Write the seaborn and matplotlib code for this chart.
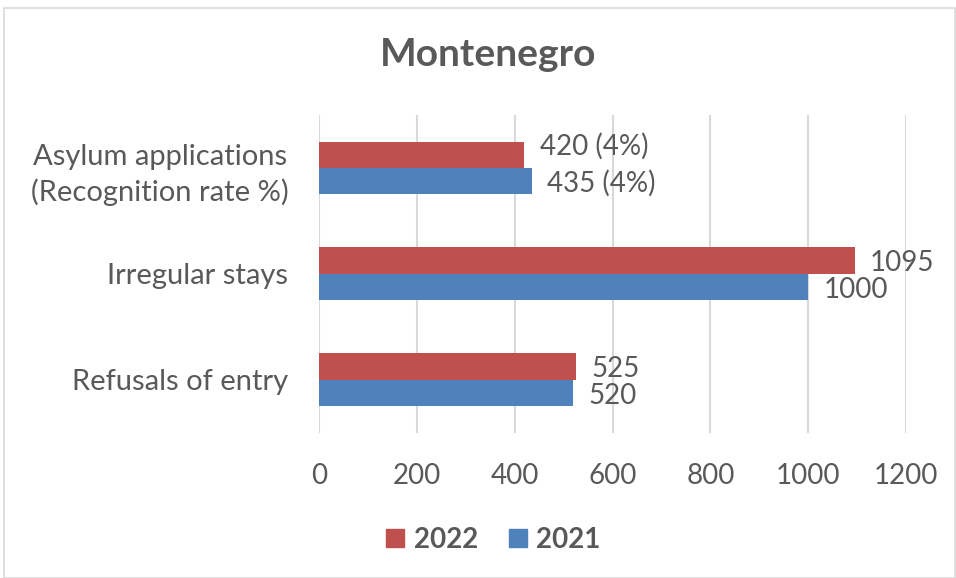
import matplotlib
matplotlib.use("Agg")
import matplotlib.pyplot as plt
import seaborn as sns
import pandas as pd
from matplotlib.patches import Rectangle

categories = ["Asylum applications\n(Recognition rate %)", "Irregular stays", "Refusals of entry"]
values_2022 = [420, 1095, 525]
values_2021 = [435, 1000, 520]
labels_2022 = ["420 (4%)", "1095", "525"]
labels_2021 = ["435 (4%)", "1000", "520"]
years = ["2022", "2021"]
colors = {"2022": "#C0504D", "2021": "#4F81BD"}

df = pd.DataFrame({
    "category": categories * 2,
    "value": values_2022 + values_2021,
    "year": ["2022"] * 3 + ["2021"] * 3,
})

sns.set_theme(style="white")
plt.rcParams['font.family'] = ['Lato', 'DejaVu Sans']
text_color = "#595959"

fig = plt.figure(figsize=(9.56, 5.78), dpi=100)
ax = fig.add_axes([0.3337, 0.251, 0.614, 0.550])

sns.barplot(data=df, y="category", x="value", hue="year", hue_order=years,
            palette=colors, orient="h", width=0.5, ax=ax, legend=False,
            saturation=1, edgecolor="none")

ax.set_xlim(0, 1200)
ax.set_ylim(2.5, -0.5)
ax.set_xticks([0, 200, 400, 600, 800, 1000, 1200])
ax.grid(axis="x", color="#D9D9D9", linewidth=1.5)
ax.set_axisbelow(True)
for s in ax.spines.values():
    s.set_visible(False)
ax.set_xlabel("")
ax.set_ylabel("")
ax.tick_params(axis="x", length=0, labelsize=20, colors=text_color, pad=22)
ax.tick_params(axis="y", length=0, labelsize=21, colors=text_color, pad=22)
for lab in ax.get_yticklabels():
    lab.set_horizontalalignment("right")
    lab.set_multialignment("center")
    lab.set_linespacing(1.4)

# data labels (vertical offsets in points, per row, to keep labels apart)
dy_2022 = [6, -1.8, -1.8]
dy_2021 = [-1.5, -1.8, -1.8]
for cont, labs, dys in zip(ax.containers, [labels_2022, labels_2021], [dy_2022, dy_2021]):
    for bar, txt, dy in zip(cont, labs, dys):
        ax.annotate(txt, (bar.get_width(), bar.get_y() + bar.get_height() / 2),
                    xytext=(11, dy), textcoords="offset points",
                    ha="left", va="center", fontsize=20, color=text_color)

fig.text(0.511, 0.905, "Montenegro", ha="center", va="center",
         fontsize=28, fontweight="bold", color=text_color)

# legend
handles = [Rectangle((0, 0), 1, 1, color=colors[y]) for y in years]
leg = fig.legend(handles, years, loc="center", bbox_to_anchor=(0.516, 0.066), ncol=2,
                 frameon=False, handlelength=0.65, handleheight=0.65, handletextpad=0.35,
                 columnspacing=1.1, prop={"size": 20, "weight": "bold"})
for t in leg.get_texts():
    t.set_color(text_color)

# outer border
fig.patches.append(Rectangle((0.004, 0.0), 0.995, 0.987, transform=fig.transFigure,
                             fill=False, edgecolor="#D9D9D9", linewidth=1.2))

fig.savefig("out.png", dpi=100)
